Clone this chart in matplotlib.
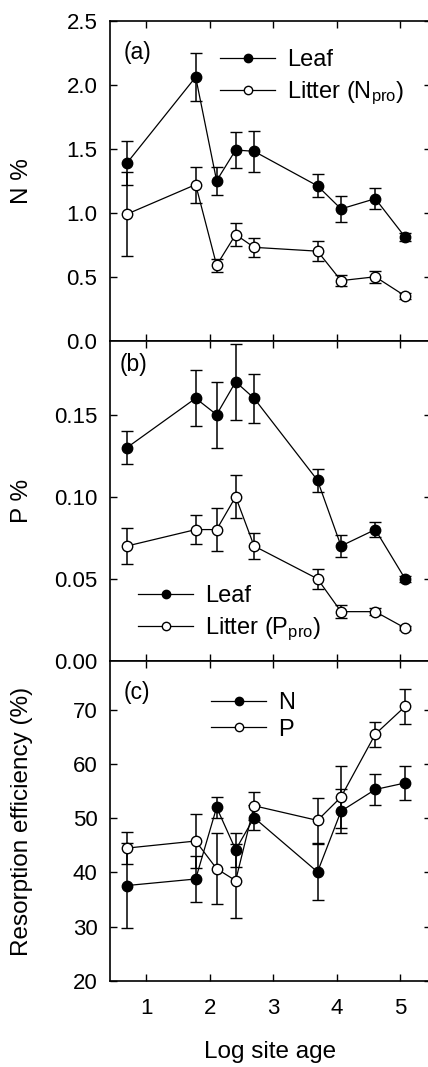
import matplotlib
matplotlib.use("Agg")
import matplotlib.pyplot as plt
from matplotlib.lines import Line2D

plt.rcParams['font.family'] = ['Liberation Sans', 'DejaVu Sans']
plt.rcParams['mathtext.fontset'] = 'custom'
plt.rcParams['mathtext.rm'] = 'Liberation Sans'
plt.rcParams['mathtext.it'] = 'Liberation Sans:italic'

# Data
log_age = [0.70, 1.78, 2.11, 2.41, 2.70, 3.70, 4.07, 4.61, 5.08]

leaf_N = [1.39, 2.06, 1.25, 1.49, 1.48, 1.21, 1.03, 1.11, 0.81]
leaf_N_err = [0.17, 0.19, 0.11, 0.14, 0.16, 0.09, 0.10, 0.08, 0.03]
litter_N = [0.99, 1.22, 0.59, 0.83, 0.73, 0.70, 0.47, 0.50, 0.35]
litter_N_err = [0.33, 0.14, 0.05, 0.09, 0.075, 0.08, 0.045, 0.045, 0.025]

leaf_P = [0.130, 0.160, 0.150, 0.170, 0.160, 0.110, 0.070, 0.080, 0.050]
leaf_P_err = [0.010, 0.017, 0.020, 0.023, 0.015, 0.007, 0.007, 0.0045, 0.002]
litter_P = [0.070, 0.080, 0.080, 0.100, 0.070, 0.050, 0.030, 0.030, 0.020]
litter_P_err = [0.011, 0.009, 0.013, 0.013, 0.008, 0.006, 0.004, 0.002, 0.001]

resorp_N = [37.6, 38.8, 52.0, 44.2, 50.1, 40.1, 51.3, 55.3, 56.5]
resorp_N_err = [7.9, 4.2, 1.9, 3.1, 2.3, 5.1, 4.0, 2.9, 3.2]
resorp_P = [44.5, 45.8, 40.7, 38.5, 52.3, 49.6, 53.9, 65.5, 70.6]
resorp_P_err = [2.9, 4.9, 6.5, 6.8, 2.6, 4.2, 5.7, 2.3, 3.2]

panel_labels = ['(a)', '(b)', '(c)']
legend_labels = [['Leaf', 'Litter (N$_{\\rm pro}$)'],
                 ['Leaf', 'Litter (P$_{\\rm pro}$)'],
                 ['N', 'P']]
y_labels = ['N %', 'P %', 'Resorption efficiency (%)']

W, H = 428, 1067
fig = plt.figure(figsize=(W / 100, H / 100), dpi=100)

left_px, right_px = 110, 430.5
aw = right_px - left_px
ah = 320.1
tops = [20.7, 340.8, 660.9]

axes = []
for t in tops:
    ax = fig.add_axes([left_px / W, 1 - (t + ah) / H, aw / W, ah / H])
    axes.append(ax)

def series(ax, y, err, filled):
    ax.errorbar(log_age, y, yerr=err, fmt='-o', color='black',
                mfc='black' if filled else 'white', mec='black',
                ms=7.5, mew=1.0, lw=0.9, elinewidth=1.1, capsize=4.5,
                capthick=1.1, zorder=3)

series(axes[0], leaf_N, leaf_N_err, True)
series(axes[0], litter_N, litter_N_err, False)
series(axes[1], leaf_P, leaf_P_err, True)
series(axes[1], litter_P, litter_P_err, False)
series(axes[2], resorp_N, resorp_N_err, True)
series(axes[2], resorp_P, resorp_P_err, False)

axes[0].set_ylim(0, 2.5)
axes[0].set_yticks([0.0, 0.5, 1.0, 1.5, 2.0, 2.5])
axes[0].set_yticklabels(['0.0', '0.5', '1.0', '1.5', '2.0', '2.5'])
axes[1].set_ylim(0, 0.195)
axes[1].set_yticks([0.0, 0.05, 0.10, 0.15])
axes[1].set_yticklabels(['0.00', '0.05', '0.10', '0.15'])
axes[2].set_ylim(20, 79)
axes[2].set_yticks([20, 30, 40, 50, 60, 70])

for i, ax in enumerate(axes):
    ax.set_xlim(0.43, 5.48)
    ax.set_xticks([1, 2, 3, 4, 5])
    ax.tick_params(direction='in', top=True, right=True, length=5, width=1.0,
                   labelsize=16, pad=9)
    ax.tick_params(axis='x', pad=12)
    for s in ax.spines.values():
        s.set_linewidth(1.2)
    if i < 2:
        ax.tick_params(axis='x', labelbottom=False)
    ax.set_ylabel(y_labels[i], fontsize=17.5)
    ax.yaxis.set_label_coords(-(left_px - 33) / aw, 0.5)

axes[2].set_xlabel('Log site age', fontsize=17.5)
axes[2].xaxis.set_label_coords(0.5, -(1041 - 981) / ah)

for lab, (x, y) in zip(panel_labels, [(124, 52), (120, 365), (124, 693)]):
    fig.text(x / W, 1 - y / H, lab, fontsize=16.5, ha='left', va='center')

def handles():
    h1 = Line2D([], [], color='black', lw=0.9, marker='o', ms=6, mfc='black', mec='black')
    h2 = Line2D([], [], color='black', lw=0.9, marker='o', ms=6, mfc='white', mec='black')
    return [h1, h2]

leg_kw = dict(frameon=False, fontsize=17, handlelength=2.35, handletextpad=0.5,
              borderaxespad=0, borderpad=0, loc='upper left')
leg_pos = [(220, 49, 0.38), (138, 585, 0.38), (211, 692, 0.2)]
for ax, labs, (lx, ly, sp), t in zip(axes, legend_labels, leg_pos, tops):
    ax.legend(handles(), labs, bbox_to_anchor=((lx - left_px) / aw, 1 - (ly - t) / ah),
              labelspacing=sp, **leg_kw)

fig.savefig('out.png', dpi=100)
